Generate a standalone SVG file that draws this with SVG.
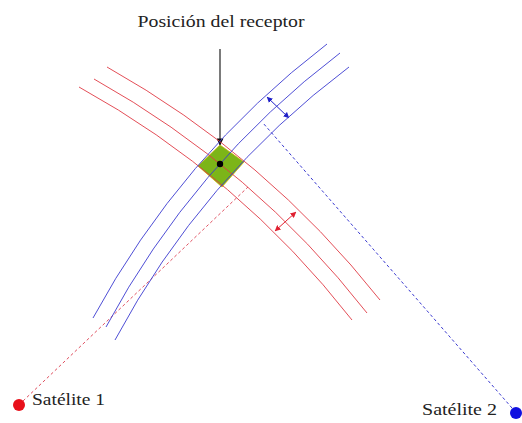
<svg xmlns="http://www.w3.org/2000/svg" width="522" height="423" viewBox="0 0 522 423">
<style>
.red{fill:none;stroke:#e03a44;stroke-width:0.9}
.blue{fill:none;stroke:#3a3ad0;stroke-width:0.9}
.rd{fill:none;stroke:#e05060;stroke-width:1;stroke-dasharray:3 2.5}
.bd{fill:none;stroke:#3a3ad0;stroke-width:1;stroke-dasharray:3 2.5}
.lbl{font-family:"Liberation Serif","DejaVu Serif",serif;font-size:16px;fill:#222}
</style>
<defs>
<marker id="ar" viewBox="0 0 8 8" refX="7.5" refY="4" markerWidth="6" markerHeight="6" markerUnits="userSpaceOnUse" orient="auto-start-reverse"><path d="M0,0 L8,4 L0,8 z" fill="#e02030"/></marker>
<marker id="ab" viewBox="0 0 8 8" refX="7.5" refY="4" markerWidth="6" markerHeight="6" markerUnits="userSpaceOnUse" orient="auto-start-reverse"><path d="M0,0 L8,4 L0,8 z" fill="#2020c8"/></marker>
<marker id="ak" viewBox="0 0 8 8" refX="7.5" refY="4" markerWidth="8" markerHeight="7" markerUnits="userSpaceOnUse" orient="auto"><path d="M0,0 L8,4 L0,8 z" fill="#111"/></marker>
</defs>
<g id="connectors">
<path class="rd" d="M23,401 L248,187"/>
<path class="bd" d="M512,408 L263,123"/>
<path d="M275,231 L296,212" fill="none" stroke="#e02030" stroke-width="1" marker-start="url(#ar)" marker-end="url(#ar)"/>
<path d="M267,97 L289,118" fill="none" stroke="#2020c8" stroke-width="1" marker-start="url(#ab)" marker-end="url(#ab)"/>
<path d="M220,49 L220,145" fill="none" stroke="#333" stroke-width="1.3" marker-end="url(#ak)"/>
</g>
<g id="receptor-zona">
<path d="M220,145 L244,162 L222,187 L198,166 Z" fill="#7cb518" stroke="#c6b000" stroke-width="1" stroke-opacity="0.7"/>
</g>
<g id="arcos-rojos">
<path class="red" d="M79,87 A896,896 0 0 1 352,320"/>
<path class="red" d="M94,79 A911,911 0 0 1 367,313"/>
<path class="red" d="M107,67 A928,928 0 0 1 380,300"/>
</g>
<g id="arcos-azules">
<path class="blue" d="M93,318 A863,863 0 0 1 327,44"/>
<path class="blue" d="M106,327 A848,848 0 0 1 340,53"/>
<path class="blue" d="M115,340 A832,832 0 0 1 349,67"/>
</g>
<g id="receptor">
<circle cx="220" cy="164" r="3.2" fill="#000"/>
<text class="lbl" x="221" y="27" text-anchor="middle" textLength="167" lengthAdjust="spacingAndGlyphs">Posición del receptor</text>
</g>
<g id="satelite1">
<circle cx="19" cy="405" r="6" fill="#e8101a"/>
<text class="lbl" x="32" y="405" textLength="73" lengthAdjust="spacingAndGlyphs">Satélite 1</text>
</g>
<g id="satelite2">
<circle cx="516" cy="413" r="6" fill="#1010e0"/>
<text class="lbl" x="422" y="415" textLength="75" lengthAdjust="spacingAndGlyphs">Satélite 2</text>
</g>
</svg>
